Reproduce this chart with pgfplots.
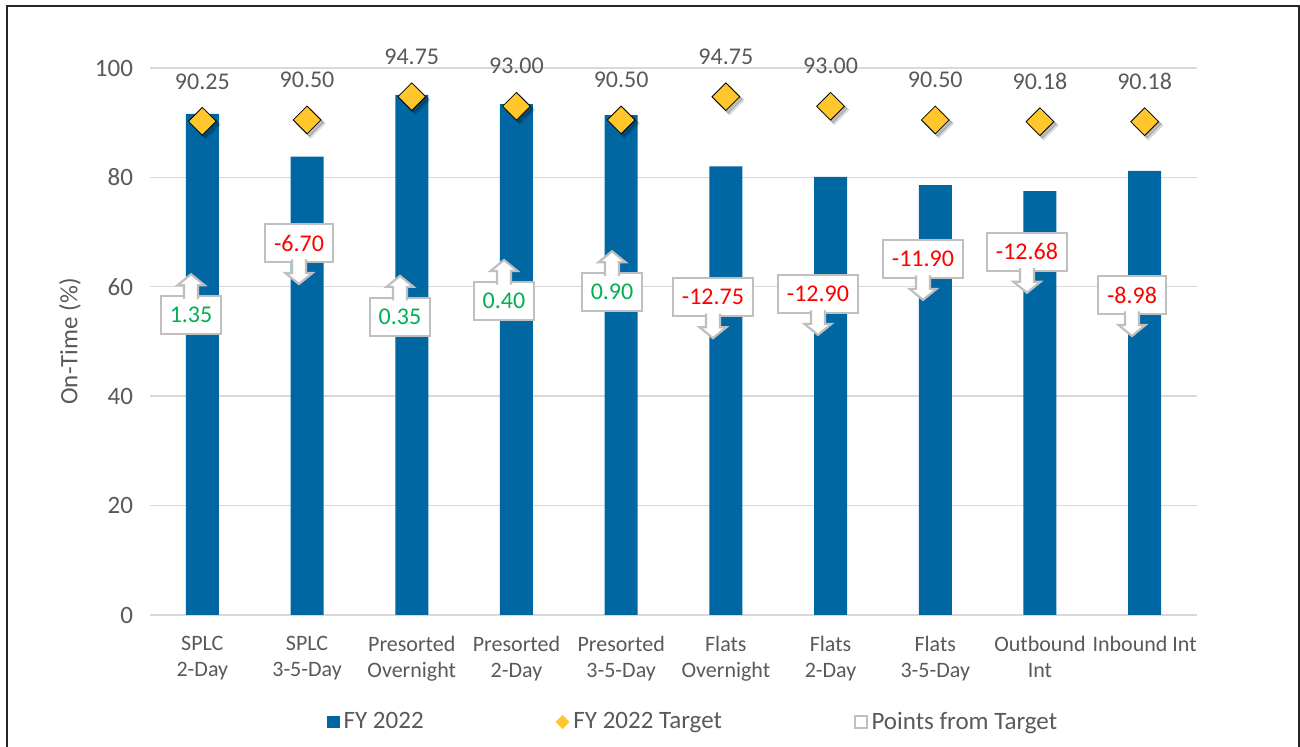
\documentclass[border=0pt]{standalone}
\usepackage{pgfplots}
\pgfplotsset{compat=1.18}
\usepackage{pgfplotstable}
\usepackage{fontspec}
\setmainfont{Carlito}
\definecolor{barblue}{RGB}{0,103,163}
\definecolor{gold}{RGB}{255,199,44}
\definecolor{txtgray}{RGB}{89,89,89}
\definecolor{gridgray}{RGB}{217,217,217}
\definecolor{callgray}{RGB}{191,191,191}
\definecolor{posgreen}{RGB}{0,176,80}
\definecolor{negred}{RGB}{255,0,0}

\pgfplotstableread{
x y
0 91.60
1 83.80
2 95.10
3 93.40
4 91.40
5 82.00
6 80.10
7 78.60
8 77.50
9 81.20
}\actual
\pgfplotstableread{
x y label
0 90.25 90.25
1 90.50 90.50
2 94.75 94.75
3 93.00 93.00
4 90.50 90.50
5 94.75 94.75
6 93.00 93.00
7 90.50 90.50
8 90.18 90.18
9 90.18 90.18
}\target
\pgfplotstableread{
x y label
-0.108 54.8 1.35
1.888 54.5 0.35
2.881 57.4 0.40
3.913 59.0 0.90
}\pospoints
\pgfplotstableread{
x y label
0.923 68.0 -6.70
4.877 58.1 -12.75
5.880 58.7 -12.90
6.883 65.1 -11.90
7.876 66.4 -12.68
8.879 58.5 -8.98
}\negpoints

% arrow parts of the callouts (box half height 9.5pt)
\pgfdeclareplotmark{callup}{%
  \pgfpathmoveto{\pgfqpoint{-3.5pt}{8.2pt}}%
  \pgfpathlineto{\pgfqpoint{-3.5pt}{15pt}}%
  \pgfpathlineto{\pgfqpoint{-6.75pt}{15pt}}%
  \pgfpathlineto{\pgfqpoint{0pt}{20.5pt}}%
  \pgfpathlineto{\pgfqpoint{6.75pt}{15pt}}%
  \pgfpathlineto{\pgfqpoint{3.5pt}{15pt}}%
  \pgfpathlineto{\pgfqpoint{3.5pt}{8.2pt}}%
  \pgfusepathqfillstroke}
\pgfdeclareplotmark{calldown}{%
  \pgfpathmoveto{\pgfqpoint{-3.5pt}{-8.2pt}}%
  \pgfpathlineto{\pgfqpoint{-3.5pt}{-15pt}}%
  \pgfpathlineto{\pgfqpoint{-6.75pt}{-15pt}}%
  \pgfpathlineto{\pgfqpoint{0pt}{-20.5pt}}%
  \pgfpathlineto{\pgfqpoint{6.75pt}{-15pt}}%
  \pgfpathlineto{\pgfqpoint{3.5pt}{-15pt}}%
  \pgfpathlineto{\pgfqpoint{3.5pt}{-8.2pt}}%
  \pgfusepathqfillstroke}

\tikzset{
  callbase/.style={draw=callgray, line width=1.1pt, fill=white,
    font=\fontsize{12}{14}\selectfont, inner xsep=4.5pt, inner ysep=0pt,
    minimum height=19pt, anchor=center},
}

\begin{document}
\begin{tikzpicture}
\path[use as bounding box] (-75pt,-66pt) rectangle (575pt,307.5pt);
\begin{axis}[
  scale only axis, width=523.5pt, height=273.5pt,
  xmin=-0.5, xmax=9.5, ymin=0, ymax=100,
  clip=false,
  axis x line*=bottom, axis y line*=left,
  x axis line style={draw=gridgray, line width=0.8pt},
  y axis line style={draw=none},
  major tick length=0pt,
  ytick={0,20,40,60,80,100},
  ymajorgrids, grid style={draw=gridgray, line width=0.7pt},
  xtick={0,...,9},
  xticklabels={{SPLC\\2-Day},{SPLC\\3-5-Day},{Presorted\\Overnight},{Presorted\\2-Day},{Presorted\\3-5-Day},{Flats\\Overnight},{Flats\\2-Day},{Flats\\3-5-Day},{Outbound\\Int},{Inbound Int}},
  xticklabel style={align=center, text=txtgray, font=\fontsize{11}{13}\selectfont, yshift=-7pt},
  yticklabel style={text=txtgray, font=\fontsize{12.5}{14}\selectfont, xshift=-5pt},
  /pgf/number format/assume math mode=true,
  ylabel={On-Time (\%)},
  every axis y label/.style={at={(axis description cs:-0.0764,0.5)}, rotate=90, anchor=center, text=txtgray, font=\fontsize{12.5}{14}\selectfont},
  legend columns=3,
  legend style={at={(axis description cs:0.5196,-0.1956)}, anchor=center, draw=none, fill=none,
    font=\fontsize{12.5}{14}\selectfont, text=txtgray,
    /tikz/every even column/.append style={column sep=64pt}},
]
\addplot[ybar, bar width=16.5pt, fill=barblue, draw=none,
  legend image code/.code={\fill[barblue] (0pt,-3.2pt) rectangle (6.4pt,3.2pt);}]
  table[x=x,y=y] {\actual};
\addlegendentry{FY 2022}
\addplot[only marks, mark=square*, mark size=5.2pt, forget plot,
  mark options={xshift=1.8pt, yshift=-1.8pt, rotate=45, fill=black, draw=none, opacity=0.10}]
  table[x=x,y=y] {\target};
\addplot[only marks, mark=square*, mark size=4.9pt, forget plot,
  mark options={xshift=1.3pt, yshift=-1.3pt, rotate=45, fill=black, draw=none, opacity=0.18}]
  table[x=x,y=y] {\target};
\addplot[only marks, mark=square*, mark size=4.9pt,
  mark options={rotate=45, fill=gold, draw=none},
  legend image code/.code={\fill[gold] (0pt,0pt) -- (3.25pt,3.25pt) -- (6.5pt,0pt) -- (3.25pt,-3.25pt) -- cycle;}]
  table[x=x,y=y] {\target};
\addlegendentry{FY 2022 Target}
\addlegendimage{legend image code/.code={\draw[callgray, line width=0.8pt] (0pt,-3pt) rectangle (6pt,3pt);}}
\addlegendentry{Points from Target}
\addplot[draw=none, forget plot, nodes near coords, point meta=explicit symbolic,
  every node near coord/.style={anchor=center, yshift=20pt, text=txtgray, font=\fontsize{12}{14}\selectfont}]
  table[x=x,y=y,meta=label] {\target};
% callout boxes
\addplot[draw=none, forget plot, nodes near coords, point meta=explicit symbolic,
  every node near coord/.style={callbase, text=posgreen}]
  table[x=x,y=y,meta=label] {\pospoints};
\addplot[draw=none, forget plot, nodes near coords, point meta=explicit symbolic,
  every node near coord/.style={callbase, text=negred}]
  table[x=x,y=y,meta=label] {\negpoints};
% callout arrows
\addplot[only marks, forget plot, mark=callup,
  mark options={fill=white, draw=callgray, line width=1.1pt, line join=miter}]
  table[x=x,y=y] {\pospoints};
\addplot[only marks, forget plot, mark=calldown,
  mark options={fill=white, draw=callgray, line width=1.1pt, line join=miter}]
  table[x=x,y=y] {\negpoints};
\end{axis}
\draw[line width=1pt, black!85] (-71.5pt,-66pt) -- (-71.5pt,304.25pt) -- (574.25pt,304.25pt) -- (574.25pt,-66pt);
\end{tikzpicture}
\end{document}
